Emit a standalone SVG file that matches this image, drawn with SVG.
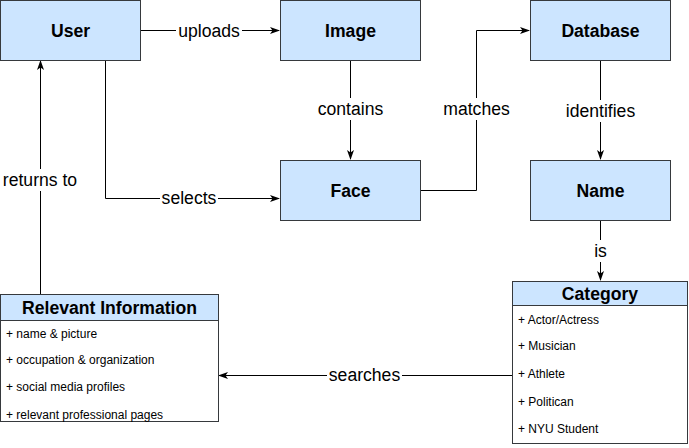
<svg xmlns="http://www.w3.org/2000/svg" width="689" height="448" viewBox="0 0 689 448">
<style>
.node{fill:#cce5ff;stroke:#36393d;stroke-width:1}
.box{fill:#ffffff;stroke:#36393d;stroke-width:1}
.title{font-family:"Liberation Sans",Arial,sans-serif;font-weight:bold;font-size:17.6px;fill:#000;text-anchor:middle;dominant-baseline:central}
.item{font-family:"Liberation Sans",Arial,sans-serif;font-size:12px;fill:#000;dominant-baseline:central}
.lbl{font-family:"Liberation Sans",Arial,sans-serif;font-size:17.6px;fill:#000;text-anchor:middle;dominant-baseline:central}
.edge{fill:none;stroke:#000;stroke-width:1}
.lblbg{fill:#ffffff}
</style>
<defs>
<marker id="arr" viewBox="0 0 10 10" refX="9" refY="5" markerWidth="10" markerHeight="10" markerUnits="userSpaceOnUse" orient="auto">
<path d="M0,1.5 L10,5 L0,8.5 L2.5,5 Z" fill="#000"/>
</marker>
</defs>
<rect width="689" height="448" fill="#ffffff"/>
<g id="connectors">
<path class="edge" d="M140.5,30.5 H279" marker-end="url(#arr)"/>
<path class="edge" d="M350.5,60.5 V159" marker-end="url(#arr)"/>
<path class="edge" d="M420.5,190.5 H476.5 V30.5 H529" marker-end="url(#arr)"/>
<path class="edge" d="M600.5,60.5 V159" marker-end="url(#arr)"/>
<path class="edge" d="M600.5,220.5 V280" marker-end="url(#arr)"/>
<path class="edge" d="M105.5,60.5 V198.5 H279" marker-end="url(#arr)"/>
<path class="edge" d="M40.5,294 V61" marker-end="url(#arr)"/>
<path class="edge" d="M512,375.5 H219" marker-end="url(#arr)"/>
<rect class="lblbg" x="176" y="20" width="66" height="22"/>
<text class="lbl" x="209" y="31">uploads</text>
<rect class="lblbg" x="316" y="98" width="68" height="22"/>
<text class="lbl" x="350.5" y="109">contains</text>
<rect class="lblbg" x="441" y="98" width="71" height="22"/>
<text class="lbl" x="476.5" y="109">matches</text>
<rect class="lblbg" x="564" y="100" width="73" height="22"/>
<text class="lbl" x="600.5" y="111">identifies</text>
<rect class="lblbg" x="592" y="240" width="17" height="22"/>
<text class="lbl" x="600.5" y="251">is</text>
<rect class="lblbg" x="160" y="187" width="58" height="22"/>
<text class="lbl" x="189" y="198">selects</text>
<rect class="lblbg" x="1" y="169" width="78" height="22"/>
<text class="lbl" x="40" y="180">returns to</text>
<rect class="lblbg" x="327" y="364" width="75" height="22"/>
<text class="lbl" x="364.5" y="375">searches</text>
</g>
<g id="user">
<rect class="node" x="0.5" y="0.5" width="140" height="60"/>
<text class="title" x="70.5" y="31">User</text>
</g>
<g id="image">
<rect class="node" x="280.5" y="0.5" width="140" height="60"/>
<text class="title" x="350.5" y="31">Image</text>
</g>
<g id="database">
<rect class="node" x="530.5" y="0.5" width="140" height="60"/>
<text class="title" x="600.5" y="31">Database</text>
</g>
<g id="face">
<rect class="node" x="280.5" y="160.5" width="140" height="60"/>
<text class="title" x="350.5" y="191">Face</text>
</g>
<g id="name">
<rect class="node" x="530.5" y="160.5" width="140" height="60"/>
<text class="title" x="600.5" y="191">Name</text>
</g>
<g id="relevant-information">
<rect class="box" x="0.5" y="294.5" width="218" height="127"/>
<rect class="node" x="0.5" y="294.5" width="218" height="26"/>
<text class="title" x="109.5" y="308">Relevant Information</text>
<text class="item" x="6" y="334">+ name &amp; picture</text>
<text class="item" x="6" y="360">+ occupation &amp; organization</text>
<text class="item" x="6" y="387">+ social media profiles</text>
<text class="item" x="6" y="415">+ relevant professional pages</text>
</g>
<g id="category">
<rect class="box" x="512.5" y="281.5" width="175" height="162"/>
<rect class="node" x="512.5" y="281.5" width="175" height="24"/>
<text class="title" x="600" y="294">Category</text>
<text class="item" x="518" y="320">+ Actor/Actress</text>
<text class="item" x="518" y="346">+ Musician</text>
<text class="item" x="518" y="374">+ Athlete</text>
<text class="item" x="518" y="402">+ Politican</text>
<text class="item" x="518" y="429">+ NYU Student</text>
</g>
</svg>
